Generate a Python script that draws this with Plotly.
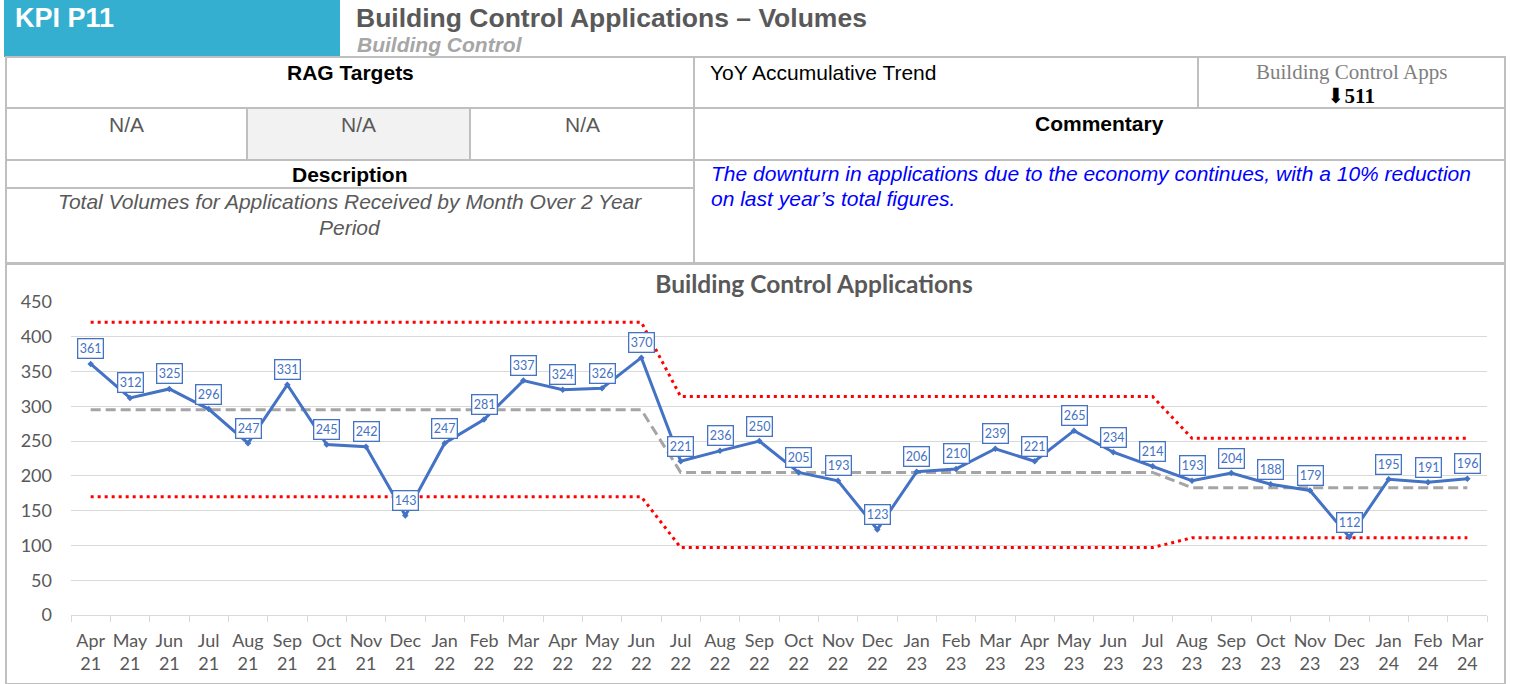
import plotly.graph_objects as go

W, H = 1518, 684

months = ["Apr<br>21", "May<br>21", "Jun<br>21", "Jul<br>21", "Aug<br>21", "Sep<br>21", "Oct<br>21", "Nov<br>21",
          "Dec<br>21", "Jan<br>22", "Feb<br>22", "Mar<br>22", "Apr<br>22", "May<br>22", "Jun<br>22", "Jul<br>22",
          "Aug<br>22", "Sep<br>22", "Oct<br>22", "Nov<br>22", "Dec<br>22", "Jan<br>23", "Feb<br>23", "Mar<br>23",
          "Apr<br>23", "May<br>23", "Jun<br>23", "Jul<br>23", "Aug<br>23", "Sep<br>23", "Oct<br>23", "Nov<br>23",
          "Dec<br>23", "Jan<br>24", "Feb<br>24", "Mar<br>24"]
applications = [361, 312, 325, 296, 247, 331, 245, 242, 143, 247, 281, 337, 324, 326, 370,
                221, 236, 250, 205, 193, 123, 206, 210, 239, 221, 265, 234, 214,
                193, 204, 188, 179, 112, 195, 191, 196]
mean_line = [295] * 15 + [205] * 13 + [183] * 8
upper_limit = [421] * 15 + [314] * 13 + [254] * 8
lower_limit = [170] * 15 + [97] * 13 + [111] * 8
y_ticks = [0, 50, 100, 150, 200, 250, 300, 350, 400, 450]

CHART_FONT = "Lato, Carlito, sans-serif"
SANS = "Liberation Sans, Arial, sans-serif"
SERIF = "Liberation Serif, DejaVu Serif, serif"


def px(x):
    return x / W


def py(y):
    return 1 - y / H


fig = go.Figure()
fig.add_trace(go.Scatter(x=months, y=upper_limit, mode="lines",
                         line=dict(color="#FF0000", width=3, dash="3px,4px"), hoverinfo="skip"))
fig.add_trace(go.Scatter(x=months, y=lower_limit, mode="lines",
                         line=dict(color="#FF0000", width=3, dash="3px,4px"), hoverinfo="skip"))
fig.add_trace(go.Scatter(x=months, y=mean_line, mode="lines",
                         line=dict(color="#A5A5A5", width=3, dash="10px,5px"), hoverinfo="skip"))
fig.add_trace(go.Scatter(x=months, y=applications, mode="lines+markers",
                         line=dict(color="#4472C4", width=3),
                         marker=dict(size=5, color="#4472C4", symbol="diamond")))

for m, v in zip(months, applications):
    fig.add_annotation(x=m, y=v, xref="x", yref="y", text=str(v), showarrow=False, yshift=15,
                       font=dict(family=CHART_FONT, size=12.5, color="#4472C4"),
                       bgcolor="white", bordercolor="#4472C4", borderwidth=1.3, borderpad=1.5)

shapes = []
line_col = "#BFBFBF"


def rect(x0, y0, x1, y1, fill=None, color=line_col, width=2):
    shapes.append(dict(type="rect", xref="paper", yref="paper", x0=px(x0), x1=px(x1), y0=py(y1), y1=py(y0),
                       fillcolor=fill if fill else "rgba(0,0,0,0)",
                       line=dict(color=color, width=width), layer="below"))


def hline(x0, x1, y, color=line_col, width=2):
    shapes.append(dict(type="line", xref="paper", yref="paper", x0=px(x0), x1=px(x1), y0=py(y), y1=py(y),
                       line=dict(color=color, width=width)))


def vline(x, y0, y1, color=line_col, width=2):
    shapes.append(dict(type="line", xref="paper", yref="paper", x0=px(x), x1=px(x), y0=py(y0), y1=py(y1),
                       line=dict(color=color, width=width)))


# header box
rect(4, 0, 340, 57, fill="#35AFCF", color="#35AFCF", width=0)
# table
rect(247, 108, 470, 160, fill="#F2F2F2", width=0)
rect(6, 57, 1505, 263)
hline(6, 1505, 108)
hline(6, 1505, 160)
hline(6, 694, 188)
vline(694, 57, 263)
vline(1198, 57, 108)
vline(247, 108, 160)
vline(470, 108, 160)
# chart frame
rect(6, 264, 1505, 684, color="#BFBFBF", width=2)


def txt(x, y, s, size=21, color="#000000", family=SANS, xanchor="center",
        bold=False, italic=False):
    if bold:
        s = "<b>" + s + "</b>"
    if italic:
        s = "<i>" + s + "</i>"
    fig.add_annotation(x=px(x), y=py(y), xref="paper", yref="paper", text=s, showarrow=False,
                       xanchor=xanchor, yanchor="middle", align="left" if xanchor == "left" else "center",
                       font=dict(size=size, color=color, family=family))


txt(13, 18, "KPI P11", size=27, color="white", xanchor="left", bold=True)
txt(354, 18, "Building Control Applications – Volumes", size=26.5, color="#595959", xanchor="left", bold=True)
txt(355, 45, "Building Control", size=21, color="#A6A6A6", xanchor="left", bold=True, italic=True)
txt(350, 72, "RAG Targets", bold=True)
txt(126, 124, "N/A", color="#595959")
txt(358, 124, "N/A", color="#595959")
txt(582, 124, "N/A", color="#595959")
txt(350, 174, "Description", bold=True)
txt(350, 202, "Total Volumes for Applications Received by Month Over 2 Year", color="#595959", italic=True)
txt(350, 227, "Period", color="#595959", italic=True)
txt(708, 72, "YoY Accumulative Trend", xanchor="left")
txt(1351, 72, "Building Control Apps", size=21, color="#808080", family=SERIF)
txt(1351, 96, "<b>⬇511</b>", size=21, color="#000000", family=SERIF)
txt(1099, 123, "Commentary", bold=True)
txt(709, 173, "The downturn in applications due to the economy continues, with a 10% reduction",
    color="#0000FF", xanchor="left", italic=True, size=21)
txt(709, 198, "on last year’s total figures.", color="#0000FF", xanchor="left", italic=True, size=21)

fig.update_layout(
    width=W, height=H, autosize=False,
    margin=dict(l=0, r=0, t=0, b=0, autoexpand=False),
    paper_bgcolor="white", plot_bgcolor="white",
    showlegend=False,
    shapes=shapes,
    title=dict(text="<b>Building Control Applications</b>", x=814 / W, xanchor="center",
               y=py(284), yanchor="middle",
               font=dict(family=CHART_FONT, size=24.5, color="#595959")),
    xaxis=dict(domain=[px(71), px(1487)], type="category", range=[-0.5, len(months) - 0.5],
               showgrid=False, showline=True,
               linecolor="#D9D9D9", linewidth=1, ticks="outside", tickson="boundaries", ticklen=6,
               tickcolor="#D9D9D9", tickangle=0, automargin=False, ticklabelstandoff=9,
               tickfont=dict(family=CHART_FONT, size=18, color="#595959"),
               fixedrange=True),
    yaxis=dict(domain=[py(615), py(302)], range=[0, 450], tickvals=y_ticks, showgrid=True,
               gridcolor="#D9D9D9", gridwidth=1, zeroline=False, showline=False, automargin=False,
               tickfont=dict(family=CHART_FONT, size=18, color="#595959"),
               ticklabelstandoff=18, fixedrange=True),
)

fig.write_html("out.html", config={"displayModeBar": False},
               post_script="document.body.style.margin='0px';")
